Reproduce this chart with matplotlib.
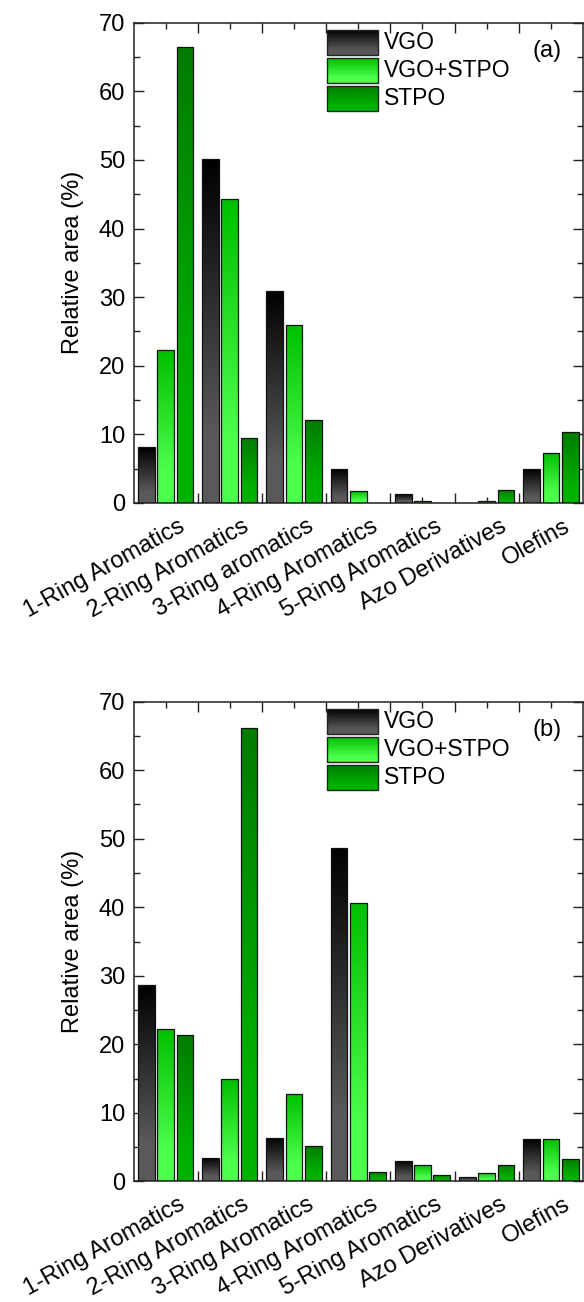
"""
Relative area of hydrocarbon families - two panel gradient bar chart

"""
import numpy as np
import matplotlib
matplotlib.use('Agg')
import matplotlib.pyplot as plt
from matplotlib.colors import LinearSegmentedColormap
from matplotlib.transforms import ScaledTranslation, blended_transform_factory

# =============================================================================
#     Data
# =============================================================================

series_names = ['VGO', 'VGO+STPO', 'STPO']

categories_a = ['1-Ring Aromatics', '2-Ring Aromatics', '3-Ring aromatics',
                '4-Ring Aromatics', '5-Ring Aromatics', 'Azo Derivatives',
                'Olefins']
categories_b = ['1-Ring Aromatics', '2-Ring Aromatics', '3-Ring Aromatics',
                '4-Ring Aromatics', '5-Ring Aromatics', 'Azo Derivatives',
                'Olefins']

vgo_a = [8.1, 50.1, 30.9, 4.9, 1.3, 0.0, 4.9]
mix_a = [22.3, 44.3, 25.9, 1.7, 0.3, 0.25, 7.3]
stpo_a = [66.5, 9.5, 12.1, 0.0, 0.0, 1.85, 10.3]

vgo_b = [28.6, 3.4, 6.4, 48.7, 3.0, 0.65, 6.25]
mix_b = [22.2, 15.0, 12.8, 40.6, 2.45, 1.25, 6.2]
stpo_b = [21.4, 66.1, 5.2, 1.35, 0.95, 2.45, 3.3]

# gradient colours (top, bottom) for each series
grad_colors = [('#000000', '#595959'),
               ('#00bf00', '#4dff4d'),
               ('#007c00', '#00b200')]

plt.rcParams['font.family'] = ['Liberation Sans', 'DejaVu Sans']
plt.rcParams['font.size'] = 17


def gradient_image(top, bottom):
    cmap = LinearSegmentedColormap.from_list('g', [top, bottom])
    s = np.linspace(0, 1, 256)
    s = np.clip(s / 0.8, 0, 1)
    return cmap(s)[:, None, :]


def gradient_bars(ax, x, values, offset, width, colors):
    bars = ax.bar(x + offset, values, width,
                  facecolor='none', edgecolor='#111111',
                  linewidth=0.9, zorder=3)
    img = gradient_image(*colors)
    for b in bars:
        if b.get_height() <= 0:
            continue
        x0 = b.get_x()
        im = ax.imshow(img, extent=(x0, x0 + b.get_width(),
                                    0, b.get_height()),
                       origin='upper', aspect='auto',
                       interpolation='bilinear', zorder=2)
        im.set_clip_path(b)


def panel(fig, ax, cats, data, tag):
    x = np.arange(len(cats))
    offsets = [-0.30, 0.0, 0.30]
    for vals, off, cols in zip(data, offsets, grad_colors):
        gradient_bars(ax, x, np.array(vals), off, 0.26, cols)

    ax.set_xlim(-0.5, len(cats) - 0.5)
    ax.set_ylim(0, 70)

    # major ticks at group boundaries, minor at group centers
    ax.set_xticks(np.arange(0.5, len(cats) - 0.5, 1.0))
    ax.set_xticklabels([])
    ax.set_xticks(x, minor=True)

    # category labels, rotated, hanging under the group centers
    trans = blended_transform_factory(ax.transData, ax.transAxes)
    shift = ScaledTranslation(12.5 / 100, -12 / 100, fig.dpi_scale_trans)
    for xi, cat in zip(x, cats):
        ax.text(xi, 0, cat, transform=trans + shift, rotation=29,
                ha='right', va='top', rotation_mode='anchor',
                fontsize=17)

    ax.set_yticks(np.arange(0, 71, 10))
    ax.set_yticks(np.arange(5, 70, 10), minor=True)

    ax.tick_params(which='both', direction='in', top=True, right=True,
                   width=1.0, color='#222222', labelsize=17)
    ax.tick_params(which='major', length=7, pad=6)
    ax.tick_params(which='minor', length=4, pad=6)
    for sp in ax.spines.values():
        sp.set_linewidth(1.1)
        sp.set_color('#222222')

    ax.set_ylabel('Relative area (%)', fontsize=17, labelpad=11)

    # legend drawn in axes fraction with gradient swatches
    row_y = [0.959, 0.901, 0.842]
    for name, cols, yc in zip(series_names, grad_colors, row_y):
        ax.imshow(gradient_image(*cols),
                  extent=(0.4305, 0.544, yc - 0.026, yc + 0.026),
                  transform=ax.transAxes, origin='upper', aspect='auto',
                  interpolation='bilinear', zorder=4)
        ax.add_patch(plt.Rectangle((0.4305, yc - 0.026), 0.1135, 0.052,
                                   transform=ax.transAxes, fill=False,
                                   edgecolor='#222222', linewidth=1.0,
                                   zorder=5))
        ax.text(0.557, yc, name, transform=ax.transAxes,
                va='center', ha='left', fontsize=16.5)

    ax.text(0.92, 0.94, tag, transform=ax.transAxes,
            va='center', ha='center', fontsize=17)

    ax.set_xlim(-0.5, len(cats) - 0.5)
    ax.set_ylim(0, 70)


fig = plt.figure(figsize=(5.84, 13.02), dpi=100)
ax_a = fig.add_axes([0.2286, 0.6137, 0.7697, 0.3689])
ax_b = fig.add_axes([0.2286, 0.0926, 0.7697, 0.3685])

panel(fig, ax_a, categories_a, [vgo_a, mix_a, stpo_a], '(a)')
panel(fig, ax_b, categories_b, [vgo_b, mix_b, stpo_b], '(b)')

fig.savefig('out.png', dpi=100)
